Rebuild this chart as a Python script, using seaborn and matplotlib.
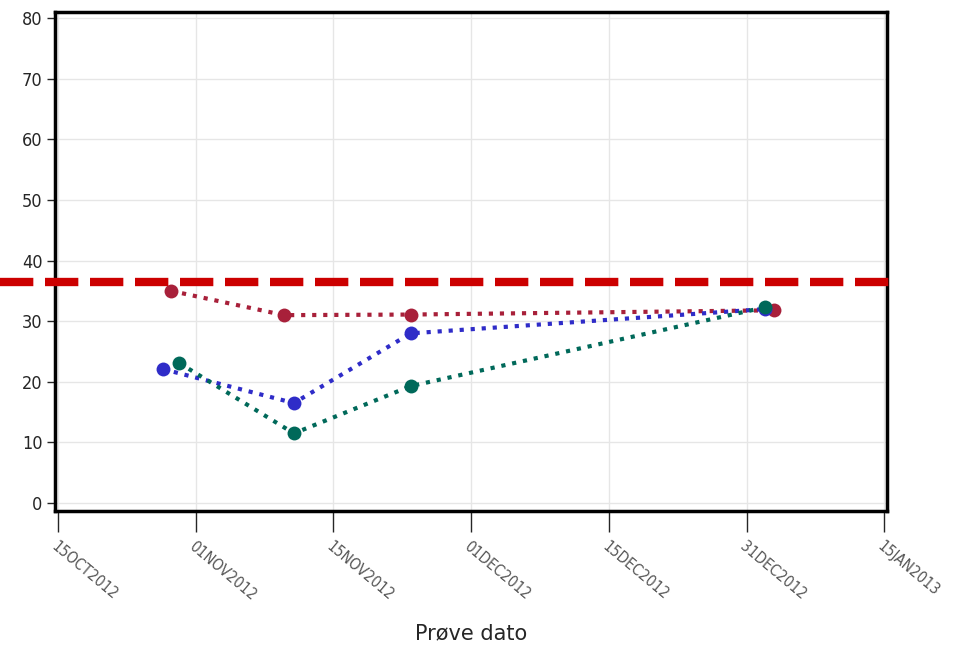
import numpy as np
import pandas as pd
import seaborn as sns
import matplotlib.pyplot as plt
import matplotlib.dates as mdates

# Data
red_dates = ["2012-10-29", "2012-11-10", "2012-11-24", "2013-01-03"]
red_vals = [35.0, 31.0, 31.1, 31.8]
blue_dates = ["2012-10-28", "2012-11-11", "2012-11-24", "2013-01-02"]
blue_vals = [22.1, 16.5, 28.0, 32.0]
green_dates = ["2012-10-30", "2012-11-11", "2012-11-24", "2013-01-02"]
green_vals = [23.1, 11.5, 19.3, 32.3]
ref_level = 36.4

tick_dates = ["2012-10-15", "2012-11-01", "2012-11-15", "2012-12-01",
              "2012-12-15", "2012-12-31", "2013-01-15"]
tick_labels = ["15OCT2012", "01NOV2012", "15NOV2012", "01DEC2012",
               "15DEC2012", "31DEC2012", "15JAN2013"]

df = pd.concat([
    pd.DataFrame({"dato": pd.to_datetime(red_dates), "verdi": red_vals, "gruppe": "A"}),
    pd.DataFrame({"dato": pd.to_datetime(blue_dates), "verdi": blue_vals, "gruppe": "B"}),
    pd.DataFrame({"dato": pd.to_datetime(green_dates), "verdi": green_vals, "gruppe": "C"}),
])
palette = {"A": "#a8203a", "B": "#2f2cc8", "C": "#00695a"}

sns.set_style("white")
plt.rcParams["font.family"] = ["DejaVu Sans"]

fig = plt.figure(figsize=(9.55, 6.46), dpi=100)
ax = fig.add_axes([0.0576, 0.209, 0.8712, 0.7724])

sns.lineplot(data=df, x="dato", y="verdi", hue="gruppe", palette=palette,
             marker="o", markersize=10, markeredgewidth=0, linestyle=":",
             linewidth=3, legend=False, ax=ax, zorder=3)

# SAS-style axis: the half-month ticks are evenly spaced
anchors = mdates.date2num(pd.to_datetime(["2012-10-01"] + tick_dates + ["2013-01-31"]))
pos = np.arange(-1, len(tick_dates) + 1)
ax.set_xscale("function", functions=(lambda x: np.interp(x, anchors, pos),
                                      lambda p: np.interp(p, pos, anchors)))
tick_nums = mdates.date2num(pd.to_datetime(tick_dates))
ax.set_xticks(tick_nums)
ax.set_xticklabels(tick_labels, rotation=-40, ha="left", va="top",
                   rotation_mode="anchor", fontsize=11, color="#555555",
                   fontstretch="condensed")
ax.set_xlim(np.interp(-0.02, pos, anchors), np.interp(6.02, pos, anchors))
ax.set_ylim(-1.3, 81)
ax.set_yticks(range(0, 81, 10))
ax.tick_params(axis="y", labelsize=13, length=6, width=1, left=True, pad=3)
ax.tick_params(axis="x", length=15, width=1, bottom=True, pad=5)
for t in ax.get_yticklabels():
    t.set_fontstretch("condensed")

ax.axhline(ref_level, xmin=-0.066, xmax=1.01, color="#cc0000", linewidth=6,
           dashes=(4, 1.4), clip_on=False, zorder=4)

ax.grid(True, color="#e6e6e6", linewidth=1)
ax.set_axisbelow(True)
for s in ax.spines.values():
    s.set_linewidth(2.5)
    s.set_color("black")

ax.set_xlabel("Prøve dato", fontsize=15)
ax.xaxis.set_label_coords(0.5, -0.225)
ax.set_ylabel("")

fig.savefig("out.png", dpi=100)
